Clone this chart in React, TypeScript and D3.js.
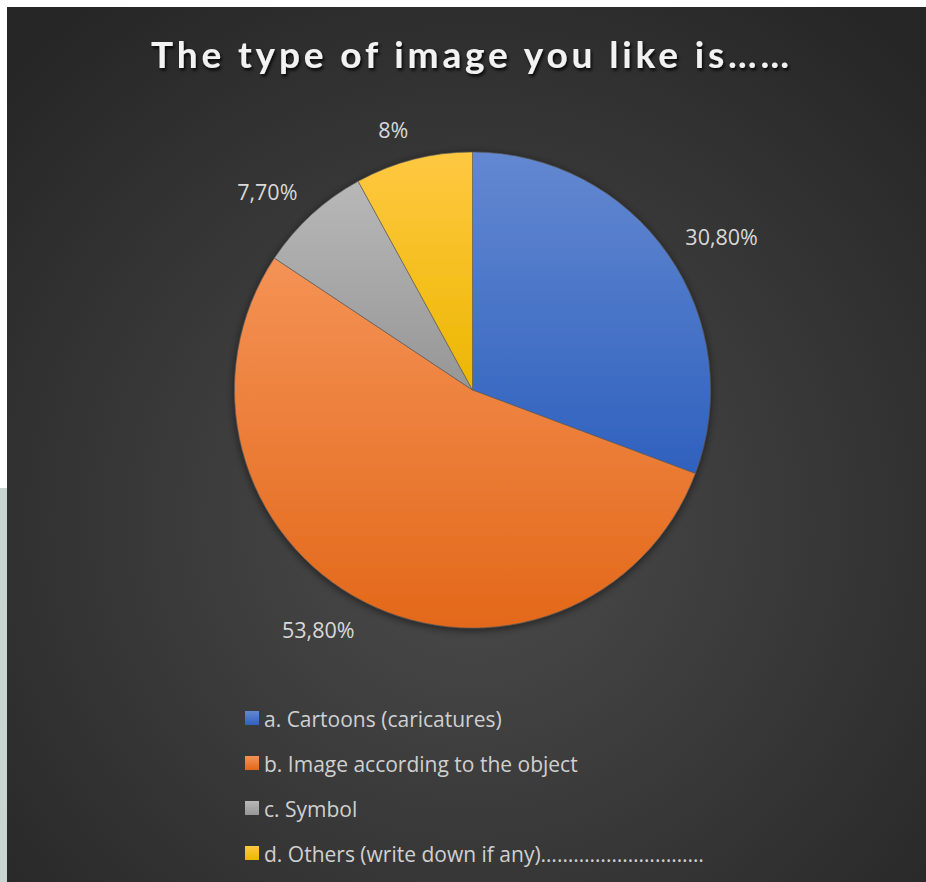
import React from "react";
import * as d3 from "d3";

const W = 926;
const H = 882;

const title = "The type of image you like is\u2026\u2026";
const categories = [
  "a. Cartoons (caricatures)",
  "b. Image according to the object",
  "c. Symbol",
  "d. Others (write down if any)\u2026\u2026\u2026\u2026\u2026\u2026\u2026\u2026\u2026\u2026",
];
const values = [30.8, 53.8, 7.7, 8];
const valueLabels = ["30,80%", "53,80%", "7,70%", "8%"];
const topColors = ["#6388d1", "#f49255", "#b8b8b8", "#ffc842"];
const bottomColors = ["#2f61be", "#e3681a", "#969696", "#ecb700"];

export default function App() {
  const cx = 472.5;
  const cy = 390;
  const r = 238;
  const labelRx = 259;
  const labelRy = 269;

  const arcs = d3.pie<number>().sort(null).value((d) => d)(values);
  const arc = d3.arc<d3.PieArcDatum<number>>().innerRadius(0).outerRadius(r);

  const legendX = 245;
  const legendY0 = 718;
  const legendStep = 45;
  const legendY = d3.scaleLinear().domain([0, 1]).range([legendY0, legendY0 + legendStep]);

  const titleFont = "Lato, 'Open Sans', sans-serif";
  const font = "'Open Sans', 'Noto Sans', sans-serif";

  return (
    <div style={{ position: "absolute", left: 0, top: 0, width: W, height: H }}>
      <svg width={W} height={H} style={{ display: "block" }}>
        <defs>
          <radialGradient id="bg" gradientUnits="userSpaceOnUse" cx={470} cy={520} r={640}>
            <stop offset="0" stopColor="#4c4c4c" />
            <stop offset="1" stopColor="#262626" />
          </radialGradient>
          {categories.map((_, i) => (
            <linearGradient key={i} id={`g${i}`} x1="0" y1="0" x2="0" y2="1">
              <stop offset="0" stopColor={topColors[i]} />
              <stop offset="1" stopColor={bottomColors[i]} />
            </linearGradient>
          ))}
          <filter id="pieShadow" x="-20%" y="-20%" width="140%" height="140%">
            <feDropShadow dx="0" dy="2" stdDeviation="4" floodColor="#000" floodOpacity="0.55" />
          </filter>
          <filter id="titleShadow" x="-10%" y="-30%" width="120%" height="160%">
            <feDropShadow dx="1.5" dy="2.5" stdDeviation="1.8" floodColor="#000" floodOpacity="0.85" />
          </filter>
        </defs>

        <rect x={0} y={0} width={W} height={H} fill="#ffffff" />
        <rect x={0} y={488} width={7} height={H - 488} fill="#c9d5d0" />
        <rect x={7} y={7} width={W - 7} height={H - 7} fill="url(#bg)" />

        <text
          x={151}
          y={68}
          fill="#f2f2f2"
          fontFamily={titleFont}
          fontWeight={700}
          fontSize={37}
          textLength={638}
          lengthAdjust="spacing"
          filter="url(#titleShadow)"
        >
          {title}
        </text>

        <g transform={`translate(${cx},${cy})`}>
          <g filter="url(#pieShadow)">
            {arcs.map((a, i) => (
              <path key={i} d={arc(a) || ""} fill={`url(#g${i})`} stroke="#5a5a5a" strokeWidth={0.6} />
            ))}
          </g>
          {arcs.map((a, i) => {
            const t = (a.startAngle + a.endAngle) / 2;
            const s = Math.sin(t);
            const c = Math.cos(t);
            return (
              <text
                key={i}
                x={s * labelRx}
                y={-c * labelRy}
                textAnchor={s >= 0 ? "start" : "end"}
                dominantBaseline="central"
                fill="#d9d9d9"
                fontFamily={font}
                fontSize={21.5}
              >
                {valueLabels[i]}
              </text>
            );
          })}
        </g>

        {categories.map((cat, i) => (
          <g key={i} transform={`translate(${legendX},${legendY(i)})`}>
            <rect x={0} y={-7} width={14} height={14} fill={`url(#g${i})`} />
            <text x={19} y={0.5} dominantBaseline="central" fill="#d0d0d0" fontFamily={font} fontSize={21}>
              {cat}
            </text>
          </g>
        ))}
      </svg>
    </div>
  );
}
